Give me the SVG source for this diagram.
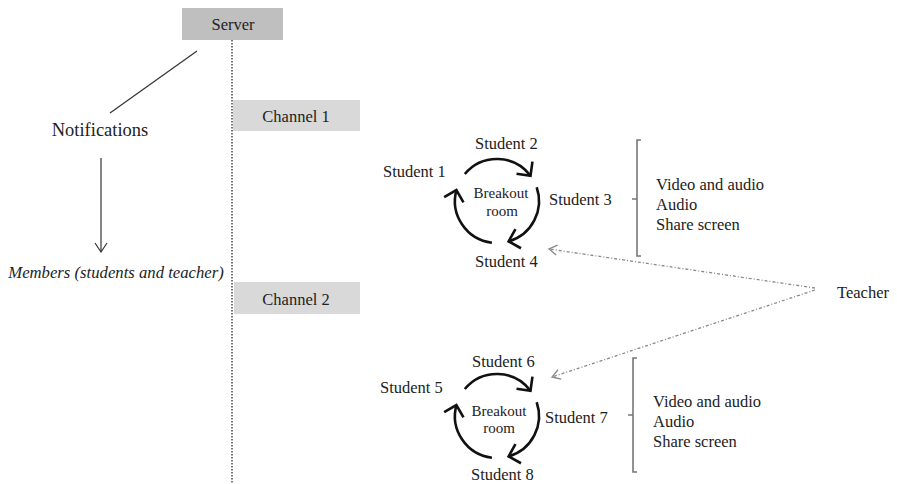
<svg xmlns="http://www.w3.org/2000/svg" width="897" height="484" viewBox="0 0 897 484" font-family="'Liberation Serif','DejaVu Serif','Times New Roman',serif">
<style>
text{font-family:'Liberation Serif','DejaVu Serif','Times New Roman',serif;fill:#222;font-size:16.5px}
.c{text-anchor:middle}
.br{font-size:15px}
.arc{fill:none;stroke:#111;stroke-width:2.6;marker-end:url(#chev)}
.brk{fill:none;stroke:#777;stroke-width:1.6}
.tl{fill:none;stroke:#888;stroke-width:1.3;stroke-dasharray:3 2 1 2;marker-end:url(#gray)}
</style>
<defs>
<marker id="chev" markerUnits="userSpaceOnUse" viewBox="-12 -12 14 24" refX="0" refY="0" markerWidth="14" markerHeight="24" orient="auto" overflow="visible">
<path d="M-10 -10 L0 0 L-10 10" fill="none" stroke="#111" stroke-width="2.6"/>
</marker>
<marker id="gray" markerUnits="userSpaceOnUse" viewBox="-10 -8 12 16" refX="0" refY="0" markerWidth="12" markerHeight="16" orient="auto" overflow="visible">
<path d="M-8 -5 L0 0 L-8 5" fill="none" stroke="#888" stroke-width="1.3"/>
</marker>
<marker id="blk" markerUnits="userSpaceOnUse" viewBox="-10 -8 12 16" refX="0" refY="0" markerWidth="12" markerHeight="16" orient="auto" overflow="visible">
<path d="M-9 -6 L0 0 L-9 6" fill="none" stroke="#333" stroke-width="1.2"/>
</marker>
</defs>

<g id="connectors">
<line x1="232" y1="40" x2="232" y2="484" stroke="#555" stroke-width="1.6" stroke-dasharray="1.5 1.5"/>
<line x1="197" y1="51" x2="110" y2="113" stroke="#333" stroke-width="1.2"/>
<line x1="101" y1="158" x2="101" y2="252" stroke="#333" stroke-width="1.2" marker-end="url(#blk)"/>
<line class="tl" x1="815" y1="288" x2="549" y2="249"/>
<line class="tl" x1="815" y1="290" x2="552" y2="377"/>
</g>

<g id="server">
<rect x="182" y="8" width="101" height="32" fill="#bfbfbf"/>
<text class="c" x="233" y="30">Server</text>
</g>
<g id="channel1">
<rect x="233" y="100" width="127" height="31" fill="#d9d9d9"/>
<text class="c" x="296" y="122">Channel 1</text>
</g>
<g id="channel2">
<rect x="234" y="282" width="126" height="32" fill="#d9d9d9"/>
<text class="c" x="296" y="305">Channel 2</text>
</g>
<g id="notifications">
<text class="c" x="100" y="136" style="font-size:18.5px">Notifications</text>
</g>
<g id="members">
<text class="c" x="116" y="278" style="font-style:italic;font-size:16.7px">Members (students and teacher)</text>
</g>

<g id="room1">
<path class="arc" d="M464.8 174 A42 42 0 0 1 530.5 175.7"/>
<path class="arc" d="M536.7 187.3 A42 42 0 0 1 508.6 241.4"/>
<path class="arc" d="M491.9 242.7 A42 42 0 0 1 456.4 190.1"/>
<text class="c br" x="501" y="198">Breakout</text>
<text class="c br" x="502" y="216">room</text>
<text x="383" y="177">Student 1</text>
<text x="475" y="149">Student 2</text>
<text x="549" y="205">Student 3</text>
<text x="475" y="267">Student 4</text>
</g>
<g id="tools1">
<path class="brk" d="M641 140 H637 V256 H641 M637 199 H632"/>
<text x="656" y="190">Video and audio</text>
<text x="656" y="210">Audio</text>
<text x="656" y="230">Share screen</text>
</g>

<g id="room2">
<path class="arc" d="M464.8 389 A42 42 0 0 1 530.5 390.7"/>
<path class="arc" d="M536.7 402.3 A42 42 0 0 1 508.6 456.4"/>
<path class="arc" d="M491.9 457.7 A42 42 0 0 1 456.4 405.1"/>
<text class="c br" x="499" y="416">Breakout</text>
<text class="c br" x="499" y="433">room</text>
<text x="380" y="393">Student 5</text>
<text x="472" y="367">Student 6</text>
<text x="545" y="423">Student 7</text>
<text x="471" y="480">Student 8</text>
</g>
<g id="tools2">
<path class="brk" d="M637 358 H633 V472 H637 M633 415 H628"/>
<text x="653" y="407">Video and audio</text>
<text x="653" y="427">Audio</text>
<text x="653" y="447">Share screen</text>
</g>

<g id="teacher">
<text x="837" y="298">Teacher</text>
</g>
</svg>
